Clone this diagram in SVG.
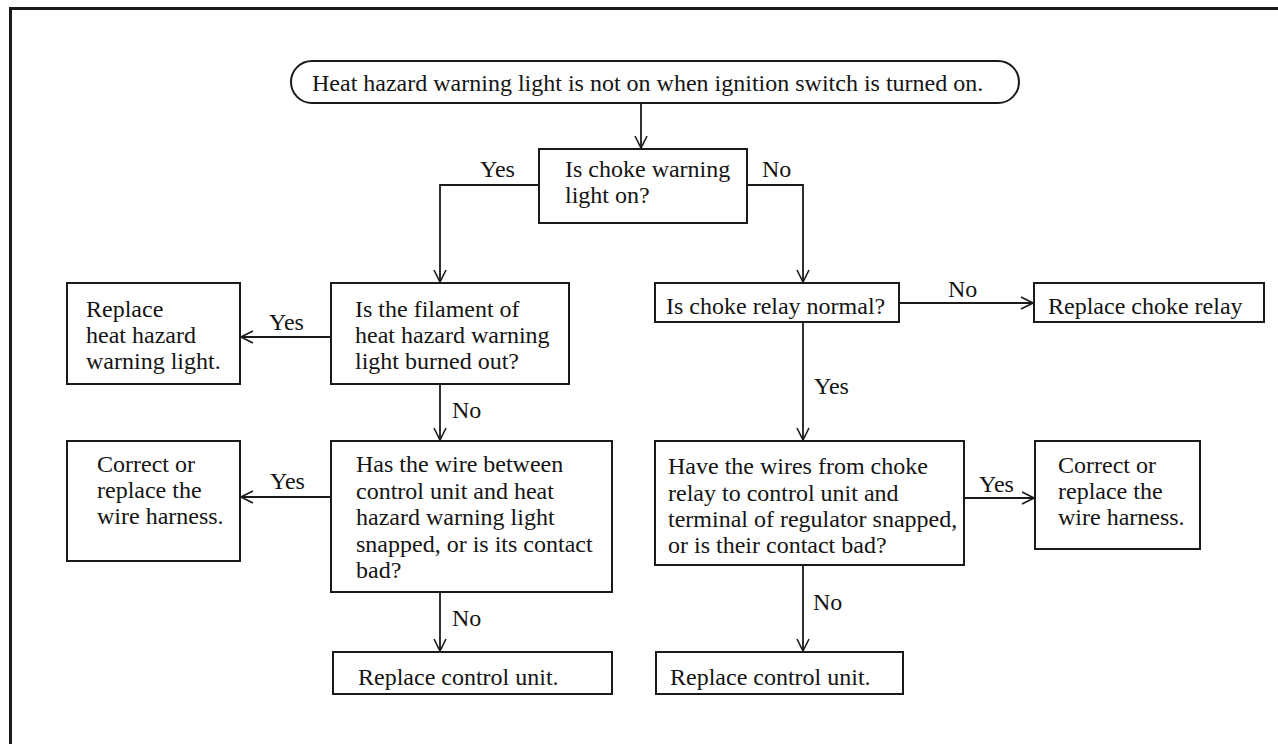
<svg xmlns="http://www.w3.org/2000/svg" width="1278" height="744" viewBox="0 0 1278 744">
<defs>
<style>
.box{fill:#fff;stroke:#1a1a1a;stroke-width:2}
.ln{fill:none;stroke:#1a1a1a;stroke-width:1.8}
text{font-family:"Liberation Serif","Times New Roman",serif;font-size:24px;fill:#141414}
</style>
<marker id="arr" viewBox="0 0 14 14" refX="13" refY="7" markerWidth="14" markerHeight="14" markerUnits="userSpaceOnUse" orient="auto">
<path d="M1,1 L13,7 L1,13" fill="none" stroke="#1a1a1a" stroke-width="1.6"/>
</marker>
</defs>
<rect width="1278" height="744" fill="#fff"/>
<g id="frame">
<line x1="9" y1="8.5" x2="1278" y2="8.5" stroke="#1a1a1a" stroke-width="3"/>
<line x1="10.5" y1="7" x2="10.5" y2="744" stroke="#1a1a1a" stroke-width="3"/>
</g>
<g id="connectors">
<line class="ln" x1="641" y1="103" x2="641" y2="148" marker-end="url(#arr)"/>
<polyline class="ln" points="539,185 440,185 440,282" marker-end="url(#arr)"/>
<polyline class="ln" points="747,185 803,185 803,282" marker-end="url(#arr)"/>
<line class="ln" x1="331" y1="337" x2="241" y2="337" marker-end="url(#arr)"/>
<line class="ln" x1="440" y1="384" x2="440" y2="440" marker-end="url(#arr)"/>
<line class="ln" x1="899" y1="303" x2="1033" y2="303" marker-end="url(#arr)"/>
<line class="ln" x1="803" y1="322" x2="803" y2="440" marker-end="url(#arr)"/>
<line class="ln" x1="331" y1="497" x2="241" y2="497" marker-end="url(#arr)"/>
<line class="ln" x1="964" y1="498" x2="1034" y2="498" marker-end="url(#arr)"/>
<line class="ln" x1="440" y1="592" x2="440" y2="651" marker-end="url(#arr)"/>
<line class="ln" x1="803" y1="565" x2="803" y2="651" marker-end="url(#arr)"/>
<text x="480" y="177">Yes</text>
<text x="762" y="177">No</text>
<text x="269" y="330">Yes</text>
<text x="452" y="418">No</text>
<text x="948" y="297">No</text>
<text x="814" y="394">Yes</text>
<text x="270" y="489">Yes</text>
<text x="979" y="492">Yes</text>
<text x="452" y="626">No</text>
<text x="813" y="610">No</text>
</g>
<g id="start">
<rect class="box" x="291" y="61" width="728" height="42" rx="21"/>
<text x="312" y="91">Heat hazard warning light is not on when ignition switch is turned on.</text>
</g>
<g id="q-choke-warning">
<rect class="box" x="539" y="149" width="208" height="74"/>
<text x="565" y="177">Is choke warning</text>
<text x="565" y="203">light on?</text>
</g>
<g id="q-filament">
<rect class="box" x="331" y="283" width="238" height="101"/>
<text x="355" y="317">Is the filament of</text>
<text x="355" y="343">heat hazard warning</text>
<text x="355" y="369">light burned out?</text>
</g>
<g id="replace-light">
<rect class="box" x="67" y="283" width="173" height="101"/>
<text x="86" y="317">Replace</text>
<text x="86" y="343">heat hazard</text>
<text x="86" y="369">warning light.</text>
</g>
<g id="q-choke-relay">
<rect class="box" x="655" y="283" width="244" height="39"/>
<text x="666" y="314">Is choke relay normal?</text>
</g>
<g id="replace-relay">
<rect class="box" x="1034" y="283" width="230" height="39"/>
<text x="1048" y="314">Replace choke relay</text>
</g>
<g id="q-wire-left">
<rect class="box" x="331" y="441" width="281" height="151"/>
<text x="356" y="472">Has the wire between</text>
<text x="356" y="499">control unit and heat</text>
<text x="356" y="525">hazard warning light</text>
<text x="356" y="552">snapped, or is its contact</text>
<text x="356" y="578">bad?</text>
</g>
<g id="correct-left">
<rect class="box" x="67" y="441" width="173" height="120"/>
<text x="97" y="472">Correct or</text>
<text x="97" y="498">replace the</text>
<text x="97" y="524">wire harness.</text>
</g>
<g id="q-wires-right">
<rect class="box" x="655" y="441" width="309" height="124"/>
<text x="668" y="474">Have the wires from choke</text>
<text x="668" y="501">relay to control unit and</text>
<text x="668" y="527">terminal of regulator snapped,</text>
<text x="668" y="553">or is their contact bad?</text>
</g>
<g id="correct-right">
<rect class="box" x="1035" y="441" width="165" height="108"/>
<text x="1058" y="473">Correct or</text>
<text x="1058" y="499">replace the</text>
<text x="1058" y="525">wire harness.</text>
</g>
<g id="replace-unit-left">
<rect class="box" x="333" y="652" width="279" height="42"/>
<text x="358" y="685">Replace control unit.</text>
</g>
<g id="replace-unit-right">
<rect class="box" x="656" y="652" width="247" height="42"/>
<text x="670" y="685">Replace control unit.</text>
</g>
</svg>
